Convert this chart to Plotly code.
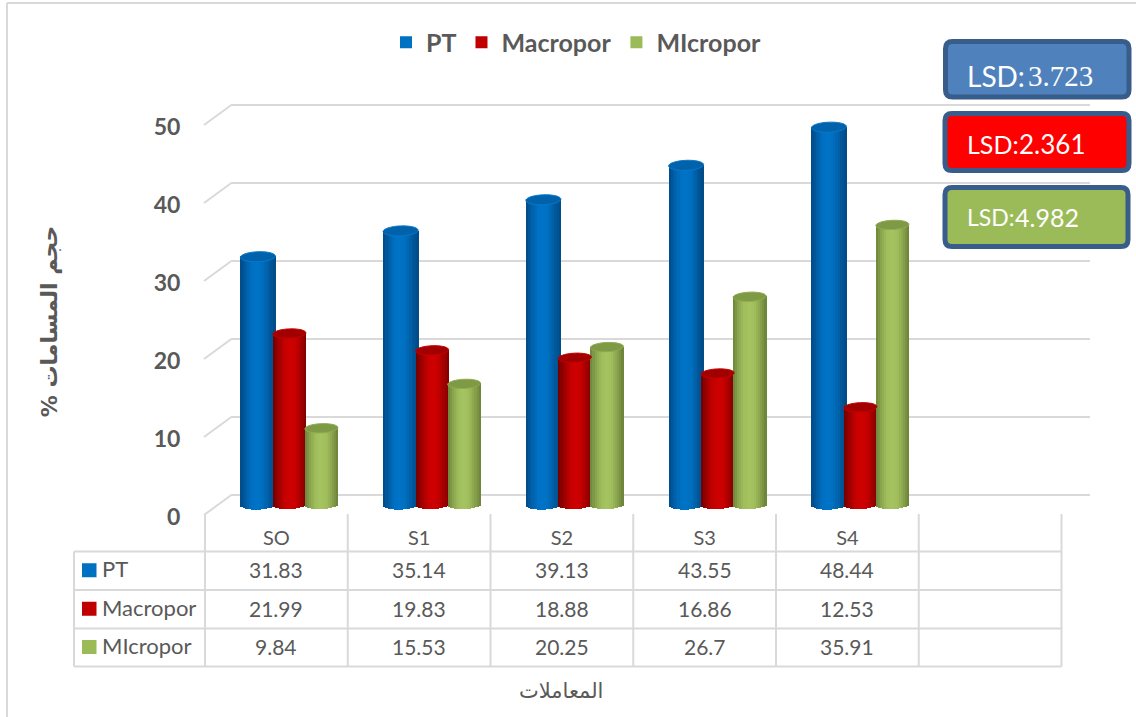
import math
import plotly.graph_objects as go

# Porosity data by treatment
categories = ["SO", "S1", "S2", "S3", "S4"]
pt_values = [31.83, 35.14, 39.13, 43.55, 48.44]
macropor_values = [21.99, 19.83, 18.88, 16.86, 12.53]
micropor_values = [9.84, 15.53, 20.25, 26.7, 35.91]
series_names = ["PT", "Macropor", "MIcropor"]
lsd_texts = ["3.723", "2.361", "4.982"]
y_title = "حجم المسامات %\u200f"
x_title = "المعاملات"

W, H = 1136, 717
TEXT = "#595959"
GRID = "#d9d9d9"
FONT = "Lato"


def fx(p):
    return p / W


def fy(p):
    return 1 - p / H


# Cylinder styling: key colour, cap colour, shading stops from left edge to right edge
styles = [
    dict(values=pt_values, key="#0070c0", cap="#0062ab", rim="#0a78c8", center=-31.5, half=17.5, ry=5.0,
         stops=["#004a85", "#005fa8", "#0070c2", "#0074c8", "#006cbb", "#00599c", "#004a85"]),
    dict(values=macropor_values, key="#c00000", cap="#a20000", rim="#c40000", center=0.0, half=16.5, ry=4.6,
         stops=["#6e0000", "#9c0000", "#c00000", "#cf0000", "#c80000", "#a80000", "#7e0000"]),
    dict(values=micropor_values, key="#9bbb59", cap="#7f9a45", rim="#8faa50", center=32.0, half=16.5, ry=4.6,
         stops=["#6c8438", "#8ba64e", "#9fbe5c", "#a6c561", "#9ebc5a", "#86a04a", "#6a8136"]),
]

SLOT_PX = 142.75
UNIT_PX = 7.8
STRIPS = 16
TILT = 1.3  # rise in px from the left to the right of a cylinder end


def hex_rgb(c):
    return [int(c[i:i + 2], 16) for i in (1, 3, 5)]


def shade(stops, u):
    pos = u * (len(stops) - 1)
    i = min(int(pos), len(stops) - 2)
    f = pos - i
    a, b = hex_rgb(stops[i]), hex_rgb(stops[i + 1])
    return "rgb(%d,%d,%d)" % tuple(round(a[k] + (b[k] - a[k]) * f) for k in range(3))


fig = go.Figure()

# Back wall gridlines live on the first axis pair
fig.add_trace(go.Scatter(x=[None], y=[None], xaxis="x", yaxis="y", showlegend=False, hoverinfo="skip"))

shapes = []
x_index = list(range(len(categories)))

# Each cylinder is a column of narrow bars shaded across its width
for st in styles:
    for s in range(STRIPS):
        u0, u1 = s / STRIPS, (s + 1) / STRIPS
        um = (u0 + u1) / 2
        t = 2 * um - 1
        left_px = st["center"] + (2 * u0 - 1) * st["half"]
        width_px = 2 * st["half"] / STRIPS + 0.6
        drop = (st["ry"] * math.sqrt(max(0.0, 1 - t * t)) + TILT * -t * 0.5) / UNIT_PX
        fig.add_trace(go.Bar(
            x=x_index,
            y=[v + drop for v in st["values"]],
            base=[-drop] * len(categories),
            offset=left_px / SLOT_PX,
            width=width_px / SLOT_PX,
            marker=dict(color=shade(st["stops"], um), line=dict(width=0)),
            xaxis="x2", yaxis="y2", showlegend=False, hoverinfo="skip",
        ))
    # Elliptical top of each cylinder, placed at the bar's value
    for i, v in enumerate(st["values"]):
        pts = []
        for k in range(36):
            a = 2 * math.pi * k / 36
            px_off = st["half"] * math.cos(a)
            py_off = st["ry"] * math.sin(a) + TILT * math.cos(a) * 0.5
            pts.append((i + (st["center"] + px_off) / SLOT_PX, v + py_off / UNIT_PX))
        path = "M " + " L ".join("%.4f,%.4f" % p for p in pts) + " Z"
        shapes.append(dict(type="path", xref="x2", yref="y2", path=path, fillcolor=st["cap"],
                           line=dict(color=st["rim"], width=1), layer="above"))

# Legend entries, front axis labels and title share the third axis pair
for name, st in zip(series_names, styles):
    fig.add_trace(go.Scatter(x=[None], y=[None], xaxis="x3", yaxis="y3", mode="markers", name=name,
                             marker=dict(symbol="square", size=17, color=st["key"]), hoverinfo="skip"))


def seg(x0, y0, x1, y1, color=GRID, width=2):
    return dict(type="line", xref="paper", yref="paper", x0=fx(x0), y0=fy(y0), x1=fx(x1), y1=fy(y1),
                line=dict(color=color, width=width), layer="below")


# Outer frame
shapes.append(seg(7, 3, 7, H))
shapes.append(seg(7, 3, W, 3))

# Side wall: slanted lines joining the front axis to the back gridlines
for tick in range(0, 51, 10):
    yf = 515 - tick * UNIT_PX
    shapes.append(seg(204, yf, 232, yf - 20.5))

# Data table grid
col_edges = [205 + SLOT_PX * i for i in range(7)]
row_edges = [551.5, 590, 628.5, 666.5]
for r in row_edges:
    shapes.append(seg(74, r, col_edges[-1], r))
shapes.append(seg(74, row_edges[0], 74, row_edges[-1]))
for c in col_edges:
    shapes.append(seg(c, 514, c, row_edges[-1]))

annotations = []
row_mid = [(row_edges[i] + row_edges[i + 1]) / 2 for i in range(3)]
for r, name, st in zip(row_mid, series_names, styles):
    shapes.append(dict(type="rect", xref="paper", yref="paper", x0=fx(82), x1=fx(96.5), y0=fy(r - 7.5), y1=fy(r + 6.5),
                       fillcolor=st["key"], line=dict(width=0)))
    annotations.append(dict(xref="paper", yref="paper", x=fx(100), y=fy(r - 2), xanchor="left", yanchor="middle",
                            text=name, showarrow=False, font=dict(family=FONT, size=22, color=TEXT)))
    for i, v in enumerate(st["values"]):
        annotations.append(dict(xref="paper", yref="paper", x=fx(col_edges[i] + SLOT_PX / 2), y=fy(r - 1),
                                xanchor="center", yanchor="middle", text=str(v), showarrow=False,
                                font=dict(family=FONT, size=21, color=TEXT)))

# Horizontal axis title, centred under the table
annotations.append(dict(xref="paper", yref="paper", x=fx(561), y=fy(691), xanchor="center", yanchor="middle",
                        text=x_title, showarrow=False, font=dict(family="DejaVu Sans", size=21, color=TEXT)))


def rounded(x0, y0, x1, y1, r):
    return (f"M {fx(x0 + r)},{fy(y0)} L {fx(x1 - r)},{fy(y0)} Q {fx(x1)},{fy(y0)} {fx(x1)},{fy(y0 + r)} "
            f"L {fx(x1)},{fy(y1 - r)} Q {fx(x1)},{fy(y1)} {fx(x1 - r)},{fy(y1)} "
            f"L {fx(x0 + r)},{fy(y1)} Q {fx(x0)},{fy(y1)} {fx(x0)},{fy(y1 - r)} "
            f"L {fx(x0)},{fy(y0 + r)} Q {fx(x0)},{fy(y0)} {fx(x0 + r)},{fy(y0)} Z")


# LSD boxes; the first box sets its number in a serif face
boxes = [
    (945.5, 41.5, 1129, 97, "#4f81bd", 76, 28, 1026, "Liberation Serif, Times New Roman, serif", 29),
    (945, 113.5, 1129, 170.5, "#ff0000", 144, 25, 1017, FONT, 26),
    (945, 187.5, 1128, 246.5, "#9bbb59", 217, 23, 1013, FONT, 25),
]
for (x0, y0, x1, y1, fill, ty, tag_size, num_x, num_font, num_size), val in zip(boxes, lsd_texts):
    shapes.append(dict(type="path", xref="paper", yref="paper", path=rounded(x0, y0, x1, y1, 7),
                       fillcolor=fill, line=dict(color="#385d8a", width=5), layer="above"))
    annotations.append(dict(xref="paper", yref="paper", x=fx(965), y=fy(ty), xanchor="left", yanchor="middle",
                            text="LSD:", showarrow=False, font=dict(family=FONT, size=tag_size, color="#ffffff")))
    annotations.append(dict(xref="paper", yref="paper", x=fx(num_x), y=fy(ty), xanchor="left", yanchor="middle",
                            text=val, showarrow=False, font=dict(family=num_font, size=num_size, color="#ffffff")))

hidden = dict(showgrid=False, zeroline=False, showticklabels=False, showline=False, ticks="")

fig.update_layout(
    width=W, height=H, autosize=False,
    margin=dict(l=0, r=0, t=0, b=0, autoexpand=False),
    paper_bgcolor="#ffffff", plot_bgcolor="rgba(0,0,0,0)",
    barmode="overlay", bargap=0,
    font=dict(family=FONT, color=TEXT),
    shapes=shapes, annotations=annotations,
    legend=dict(orientation="h", x=fx(386), y=fy(42.5), xanchor="left", yanchor="middle",
                font=dict(family=FONT, size=25, color=TEXT, weight="bold"), bgcolor="rgba(0,0,0,0)",
                itemsizing="constant", itemwidth=30, tracegroupgap=0),
    # Back wall: the range runs slightly past 0 and 50 so both end gridlines are drawn
    xaxis=dict(domain=[fx(232), fx(1090)], range=[0, 1], anchor="y", **hidden),
    yaxis=dict(domain=[fy(494.5 + UNIT_PX), fy(104.5 - UNIT_PX)], range=[-1, 51], dtick=10, anchor="x",
               showgrid=True, gridcolor=GRID, gridwidth=2, zeroline=False, showticklabels=False, ticks=""),
    # Cylinders: value 0 sits at y=505 and the categories are shifted back into the depth of the floor
    xaxis2=dict(domain=[fx(218), fx(218 + 6 * SLOT_PX)], range=[-0.5, 5.5], anchor="y2", **hidden),
    yaxis2=dict(domain=[fy(505 + 2 * UNIT_PX), fy(505 - 52 * UNIT_PX)], range=[-2, 52], anchor="x2", **hidden),
    # Front axes with their labels and title
    xaxis3=dict(domain=[fx(205), fx(205 + 6 * SLOT_PX)], range=[-0.5, 5.5], anchor="y3",
                tickmode="array", tickvals=x_index, ticktext=categories, showgrid=False, zeroline=False,
                showline=False, ticks="outside", ticklen=3, tickcolor="rgba(0,0,0,0)",
                tickfont=dict(family=FONT, size=20, color=TEXT)),
    yaxis3=dict(domain=[fy(516.5), fy(126.5)], range=[0, 50], dtick=10, anchor="x3", showgrid=False, zeroline=False,
                showline=False, ticks="outside", ticklen=19, tickcolor="rgba(0,0,0,0)",
                tickfont=dict(family=FONT, size=23, color=TEXT, weight="bold"),
                title=dict(text=y_title, standoff=90,
                           font=dict(family="DejaVu Sans", size=22, color=TEXT, weight="bold"))),
)

fig.write_html("out.html")
